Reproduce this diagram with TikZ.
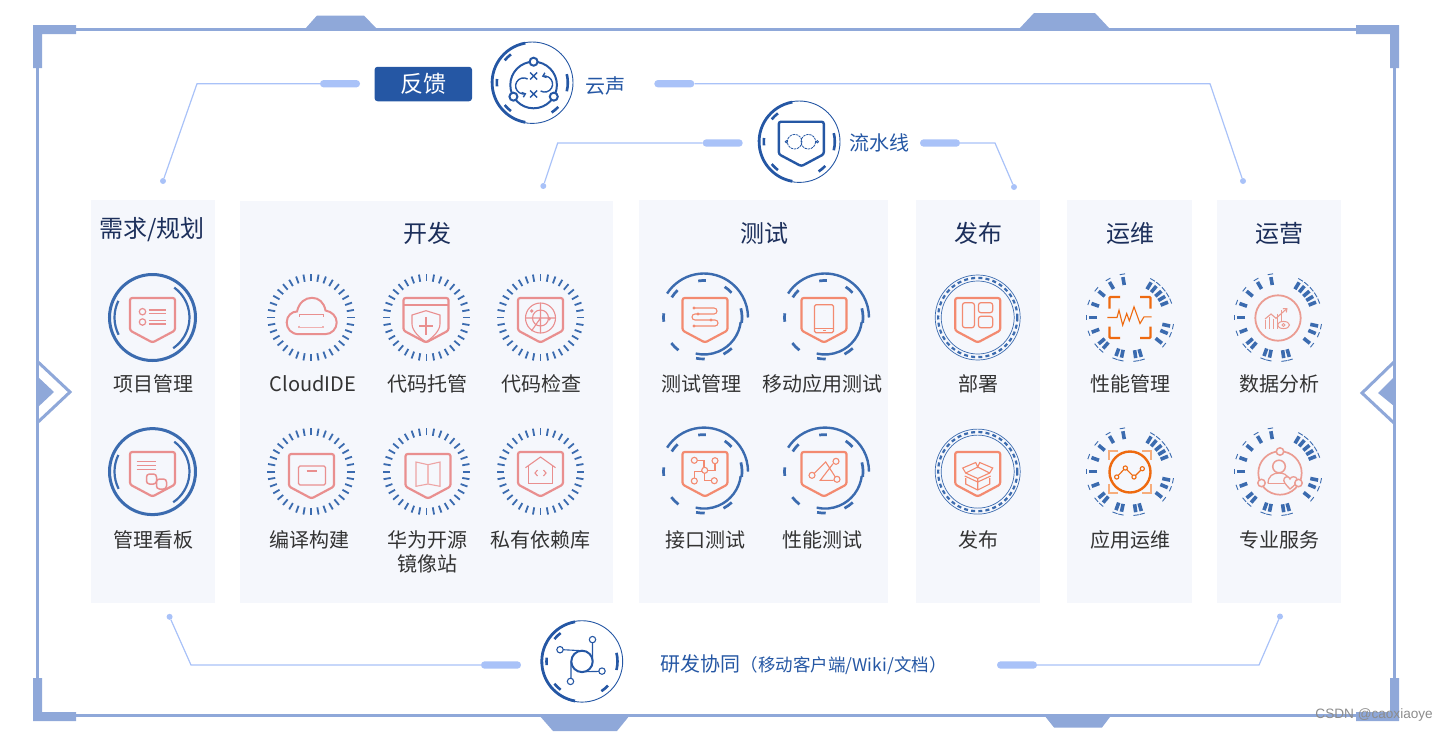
\documentclass[tikz,border=0pt]{standalone}
\usepackage{fontspec}
\setmainfont{Noto Sans CJK SC}
\newfontfamily\markfont{Liberation Sans}
\usepackage{xcolor}
\usepackage{tikz}
\usetikzlibrary{arrows.meta}
\definecolor{framecol}{HTML}{8FA8D9}
\definecolor{linkcol}{HTML}{A9C2F8}
\definecolor{panelcol}{HTML}{F5F7FC}
\definecolor{ringcol}{HTML}{3B6BAF}
\definecolor{deepblue}{HTML}{2557A4}
\definecolor{pinkcol}{HTML}{E98F8F}
\definecolor{salmoncol}{HTML}{F38A70}
\definecolor{orangecol}{HTML}{EE6A10}
\definecolor{rosecol}{HTML}{EB9C92}
\definecolor{titlecol}{HTML}{1C2F5B}
\colorlet{iconcol}{pinkcol}
\tikzset{
  ringdouble/.pic={\begin{scope}[y=1pt]
    \draw[ringcol, line width=3] (0,0) circle[radius=43];
    \draw[ringcol, line width=2.2] (54:37) arc[start angle=54, end angle=-56, radius=37];
    \draw[ringcol, line width=2.2] (154:38) arc[start angle=154, end angle=207, radius=38];
  \end{scope}},
  ringticks/.pic={\begin{scope}[y=1pt]
    \foreach \a in {0,10,...,350} \draw[ringcol, line width=1.8] (\a:36.3) -- (\a:43.6);
  \end{scope}},
  ringarcs/.pic={\begin{scope}[y=1pt]
    \draw[ringcol, line width=2.4] (147:44) arc[start angle=147, end angle=0, radius=44];
    \draw[ringcol, line width=2.4] (-7:37) arc[start angle=-7, end angle=-103, radius=37];
    \foreach \a/\r/\s in {93/37/6,49/37/7,3/38/11,141/38/7,180/40.5/6,-135/41.5/7,-95/41.5/6,-55/41.5/7}
      \draw[ringcol, line width=2.7] (\a-\s:\r) arc[start angle=\a-\s, end angle=\a+\s, radius=\r];
  \end{scope}},
  ringdash/.pic={
    \draw[ringcol, line width=.7] (0,0) circle[radius=42.5];
    \draw[ringcol, line width=.7] (0,0) circle[radius=36.5];
    \draw[ringcol, line width=2.2, dash pattern=on 4pt off 3.2pt] (0,0) circle[radius=39.6];
  },
  ringburst/.pic={\begin{scope}[y=1pt]
    \foreach \a in {100,120,140,160,180,201,220,229,250,258,278,286,59,50,40,31,22,-12,-23,-39} {
      \draw[ringcol, line width=3.6] (\a:33) -- (\a:41);
      \draw[ringcol, line width=.9] (\a-3.5:44) arc[start angle=\a-3.5, end angle=\a+3.5, radius=44];
    }
  \end{scope}},
  ringflow/.pic={\begin{scope}[y=1pt]
    \draw[deepblue, line width=.9] (0,0) circle[radius=40.7];
    \draw[deepblue, line width=2.8] (100:40.2) arc[start angle=100, end angle=260, radius=40.2];
    \foreach \a/\s in {134/7,180/6,226/7,310/7,0/14}
      \draw[deepblue, line width=2.6] (\a-\s:35.5) arc[start angle=\a-\s, end angle=\a+\s, radius=35.5];
  \end{scope}},
  shieldbase/.pic={
    \draw[iconcol, line width=2.2, rounded corners=2.2] (-22.5,-20) -- (22.5,-20) -- (22.5,12.5) -- (0,24.5) -- (-22.5,12.5) -- cycle;
  },
  iconlist/.pic={
    \pic {shieldbase};
    \draw[iconcol, line width=1.2] (-10,-6.3) circle[radius=3.2] (-10,4) circle[radius=3.2];
    \foreach \y in {-8,-4.7,2.7,6} \draw[iconcol, line width=1.1] (-4,\y) -- (13,\y);
  },
  iconboard/.pic={
    \pic {shieldbase};
    \foreach \y in {-10.6,-6.6,-2.3} \draw[iconcol, line width=1.1] (-16,\y) -- (3,\y);
    \draw[iconcol, line width=1.5, rounded corners=3] (-6,2) rectangle (4,12) (4,7) rectangle (14,17);
  },
  iconcloud/.pic={
    \draw[iconcol, line width=2] (-12,16.7) .. controls (-20,16.7) and (-24.3,11) .. (-24.3,5)
      .. controls (-24.3,-2) and (-19,-6) .. (-14,-6) .. controls (-12,-15) and (-6,-19.7) .. (1,-19.7)
      .. controls (8,-19.7) and (13,-15) .. (14.5,-7) .. controls (21,-6) and (25.7,-1) .. (25.7,5)
      .. controls (25.7,11) and (21,16.7) .. (14,16.7) -- cycle;
    \draw[iconcol, line width=1] (-12,-1) -- (-12,-3) -- (12,-3) -- (12,-1);
    \draw[iconcol!70, line width=1.4] (-12,8) -- (-12,10) -- (12,10) -- (12,8);
  },
  iconguard/.pic={
    \pic {shieldbase};
    \draw[iconcol, line width=1.2] (-22,-13) -- (22,-13);
    \draw[iconcol, line width=1.1] (0,-7.3) -- (14,-3) -- (14,6) .. controls (14,13) and (6,20) .. (0,24)
      .. controls (-6,20) and (-14,13) .. (-14,6) -- (-14,-3) -- cycle;
    \draw[iconcol, line width=1.1] (0,-1) -- (0,17) (-7,8) -- (7,8);
  },
  iconradar/.pic={
    \pic {shieldbase};
    \draw[iconcol, line width=1.1] (0,0) circle[radius=15] (0,0) circle[radius=8];
    \draw[iconcol, line width=1.1] (-15,0) -- (15,0) (0,-15) -- (0,15) (0,0) -- (-9,13);
    \fill[iconcol] (-8.7,-7) circle[radius=1.9] (8.7,.7) circle[radius=1.9];
  },
  iconbuild/.pic={
    \pic {shieldbase};
    \draw[iconcol, line width=1.1, rounded corners=1.5] (-13,-8) rectangle (14,11);
    \draw[iconcol, line width=1.1] (-5,-3) -- (5,-3);
  },
  iconbook/.pic={
    \pic {shieldbase};
    \draw[iconcol!80, line width=1.1] (0,-9.3) -- (-12,-12) -- (-12,12.3) -- (0,10) -- (12,12.3) -- (12,-12) -- cycle;
    \draw[iconcol!60, line width=1.8] (0,-9.3) -- (0,10);
  },
  iconhome/.pic={
    \pic {shieldbase};
    \draw[iconcol, line width=1.1] (-15,-4.3) -- (0,-15) -- (15,-4.3);
    \draw[iconcol, line width=1.1] (-12,-6.6) -- (-12,11.6) -- (12,11.6) -- (12,-6.6);
    \draw[iconcol, line width=1.1] (-3,-2) -- (-5.5,1) -- (-3,4) (3,-2) -- (5.5,1) -- (3,4);
  },
  iconsnake/.pic={
    \pic {shieldbase};
    \draw[iconcol, line width=1.1, rounded corners=3] (-11,-10) -- (12,-10) -- (12,-4) -- (-13,-4) -- (-13,2) -- (13,2) -- (13,8) -- (-11,8);
    \fill[iconcol] (-11,-10) circle[radius=1.7] (-7,-4) circle[radius=1.7] (6,2) circle[radius=1.7] (-11,8) circle[radius=1.7];
  },
  iconphone/.pic={
    \pic {shieldbase};
    \draw[iconcol, line width=1.2, rounded corners=1.5] (-9.5,-13.3) rectangle (9.5,14.7);
    \draw[iconcol, line width=.8] (-9.5,10.5) -- (9.5,10.5);
    \fill[iconcol] (-1.5,11.8) rectangle (1.5,13.2);
  },
  icongraph/.pic={
    \pic {shieldbase};
    \draw[iconcol, line width=1.1] (-7.7,-11.7) -- (-1,-11.7) -- (-1,-4.7) (10,-8.3) -- (10,-1.7) -- (2.7,-1.7)
      (-.3,1.3) -- (-.3,8.7) -- (6.3,8.7) (-10.7,6) -- (-10.7,-.5) -- (-3.3,-.5);
    \draw[iconcol, line width=1.1] (-10.7,-11.7) circle[radius=3] (10,-11.3) circle[radius=3]
      (-.3,-1.7) circle[radius=3] (-10.7,9) circle[radius=3] (9.3,8.7) circle[radius=3];
  },
  iconpeak/.pic={
    \pic {shieldbase};
    \draw[iconcol, line width=1.1] (-10,1.7) -- (1.7,-10) -- (11.3,5) (9,-8.3) -- (-3.7,8.3) -- (9.6,8.3);
    \draw[iconcol, line width=1.1] (-12,3.3) circle[radius=3] (12,-10.7) circle[radius=3] (13,7.3) circle[radius=3];
  },
  iconpanes/.pic={
    \pic {shieldbase};
    \draw[iconcol, line width=1.2, rounded corners=2.5] (-15.3,-15.3) rectangle (-3.3,9.7)
      (.7,-15.3) rectangle (15,-5.3) (.7,-1.7) rectangle (15,9.7);
  },
  iconcrate/.pic={
    \pic {shieldbase};
    \draw[iconcol, line width=1.1] (-15,-4) -- (-2,-9.5) -- (0,-5) -- (2,-9.5) -- (15,-4) -- (12,1) -- (0,-5) -- (-12,1) -- cycle;
    \draw[iconcol, line width=1.1] (-12,1) -- (0,6.5) -- (12,1) (-13,4) -- (0,10) -- (13,4)
      (-12,6) -- (-12,12) -- (0,18) -- (12,12) -- (12,6) (0,6.5) -- (0,18);
  },
  iconpulse/.pic={
    \foreach \sx/\sy in {1/1,-1/1,1/-1,-1/-1}
      \draw[iconcol, line width=2.2, rounded corners=1] (\sx*10,\sy*20.5) -- (\sx*20.5,\sy*20.5) -- (\sx*20.5,\sy*9);
    \draw[iconcol, line width=1.1] (-22.7,0) -- (-13,0) -- (-11,-7.3) -- (-7.3,7.7) -- (-3.3,-4) -- (-.7,3.3) -- (4,-10.7) -- (10,6) -- (14,-.7) -- (21.7,-.7);
  },
  icontrend/.pic={
    \foreach \sx/\sy in {1/1,-1/1,1/-1,-1/-1}
      \draw[iconcol!55, line width=1.5] (\sx*12,\sy*21) -- (\sx*21,\sy*21) -- (\sx*21,\sy*12);
    \draw[iconcol, line width=2.4] (0,0) circle[radius=20.5];
    \draw[iconcol, line width=1.1] (-13.3,5) -- (-4.7,-4) -- (4,5) -- (12.3,-3.3);
    \draw[iconcol, fill=panelcol, line width=1.1] (-13.3,5) circle[radius=2.1] (-4.7,-4) circle[radius=2.1]
      (4,5) circle[radius=2.1] (12.3,-3.3) circle[radius=2.1];
  },
  iconchart/.pic={
    \draw[iconcol, line width=1.8] (0,0) circle[radius=22.7];
    \foreach \x/\t in {-12.7/2,-8.3/-1.5,-4.3/.5,-.7/-4.5,3.5/-8} \draw[iconcol, line width=1.1] (\x,\t) -- (\x,11);
    \draw[iconcol, line width=1.1, -{Straight Barb[length=3pt,width=5pt]}] (-13,1) -- (-7,-4) -- (-2,.3) -- (9.5,-10);
    \draw[iconcol, line width=1, fill=panelcol] (5.5,7) ellipse[x radius=6, y radius=3.6];
    \draw[iconcol, line width=1] (5.5,7) circle[radius=1.5];
  },
  iconperson/.pic={
    \draw[iconcol, line width=1.7] (0,0) circle[radius=21.7];
    \draw[iconcol, line width=1.5] (-1,-6.5) circle[radius=6.3];
    \draw[iconcol, line width=1.3] (-12,10.5) .. controls (-12,3) and (-7,0) .. (-1,0) .. controls (4,0) and (7,2) .. (9,5);
    \draw[iconcol, line width=1.1] (-12,10.5) -- (9,10.5);
    \draw[iconcol, fill=panelcol, line width=1.3] (10,16) .. controls (5,11) and (3,8) .. (4,6)
      .. controls (5,3) and (9,3) .. (10,6) .. controls (11,3) and (16,3) .. (17,6) .. controls (18,9) and (15,12) .. (10,16) -- cycle;
    \draw[iconcol, fill=panelcol, line width=1.5] (0,-21.5) circle[radius=3.7] (-18.5,10) circle[radius=3.7] (18.5,10) circle[radius=3.7];
  },
  iconvoice/.pic={\begin{scope}[y=1pt, shift={(1.3,-2.3)}]
    \draw[deepblue, line width=2] (0,0) circle[radius=23.3];
    \foreach \p in {90,210,330} \draw[deepblue, fill=white, line width=2] (\p:23.3) circle[radius=4];
    \foreach \y in {9,-9} \draw[deepblue, line width=1.5] (-3.5,\y-3.5) -- (3.5,\y+3.5) (-3.5,\y+3.5) -- (3.5,\y-3.5);
    \draw[deepblue, line width=1.4, -{Straight Barb[length=3pt,width=5pt]}] (-6,6) arc[start angle=60, end angle=290, radius=8];
    \draw[deepblue, line width=1.4, -{Straight Barb[length=3pt,width=5pt]}] (7,-6) arc[start angle=-120, end angle=110, radius=8];
  \end{scope}},
  iconloop/.pic={
    \draw[deepblue, line width=2.4, rounded corners=2.2] (-20.5,-20) -- (24.5,-20) -- (24.5,12.5) -- (2,24.5) -- (-20.5,12.5) -- cycle;
    \draw[deepblue, line width=.8, dash pattern=on 2.4pt off .8pt] (-4.7,0) circle[radius=7.3] (9,0) circle[radius=7.3];
    \draw[deepblue, line width=.8] (-13,0) circle[radius=1.2] (18,0) circle[radius=1.2];
  },
  iconhub/.pic={
    \draw[deepblue, line width=1.1] (-19,-11.7) -- (0,-10.7) (10.5,-18.8) -- (10.5,0) (0,10.3) -- (17,10) (-11,17) -- (-11,0);
    \draw[deepblue, line width=2] (0,0) circle[radius=10.7];
    \draw[deepblue, fill=white, line width=1.1] (-22,-11.7) circle[radius=3.2] (10.5,-21.8) circle[radius=3.2]
      (20,9.7) circle[radius=3.2] (-11.5,20) circle[radius=3.2];
  },
}
\begin{document}
\begin{tikzpicture}[x=1pt, y=-1pt, every node/.style={inner sep=2pt},
  frameline/.style={framecol, line width=3},
  framepart/.style={fill=framecol},
  panel/.style={fill=panelcol, inner sep=0pt},
  title/.style={color=titlecol, font=\fontsize{24}{28}\selectfont},
  itemlabel/.style={color=black!80, align=center, font=\fontsize{20}{24}\selectfont},
  lanelabel/.style={color=deepblue, font=\fontsize{20}{24}\selectfont},
  pill/.style={fill=linkcol, rounded corners=3.6, minimum width=40, minimum height=7.4, inner sep=0pt},
  dotend/.style={circle, fill=linkcol, minimum size=6, inner sep=0pt},
  link/.style={linkcol, line width=1.2}]
\useasboundingbox (0,0) rectangle (1448,732);
\draw[frameline] (37,29) rectangle (1394,715);
\fill[framepart] (33,25) -- (76,25) -- (76,34) -- (42,34) -- (42,68) -- (33,68) -- cycle;
\fill[framepart] (1399,25) -- (1356,25) -- (1356,34) -- (1390,34) -- (1390,68) -- (1399,68) -- cycle;
\fill[framepart] (33,721) -- (76,721) -- (76,712) -- (42,712) -- (42,678) -- (33,678) -- cycle;
\fill[framepart] (1399,721) -- (1356,721) -- (1356,712) -- (1390,712) -- (1390,678) -- (1399,678) -- cycle;
\fill[framepart] (305,29) -- (317,15.5) -- (364,15.5) -- (377,29) -- cycle;
\fill[framepart] (1019,29) -- (1034,13) -- (1095,13) -- (1110,29) -- cycle;
\fill[framepart] (539,715) -- (553,731) -- (617,731) -- (630,715) -- cycle;
\fill[framepart] (1044,715) -- (1054,727.5) -- (1102,727.5) -- (1111.5,715) -- cycle;
\draw[framecol, line width=3] (37,361) -- (70,392) -- (37,423);
\fill[framepart] (37,376) -- (54,392) -- (37,408) -- cycle;
\draw[framecol, line width=3] (1394,362) -- (1362,393) -- (1394,423);
\fill[framepart] (1394,377) -- (1378,393) -- (1394,406) -- cycle;

\foreach \nm/\xa/\xb/\ya in {req/91/215/200, dev/240/613/201, test/639/888/200, rel/916/1040/200, ops/1067/1192/200, run/1217/1341/200} {
  \node[panel, minimum width=\xb-\xa, minimum height=603-\ya] (panel\nm) at ({(\xa+\xb)/2},{(603+\ya)/2}) {};
}
\node[title] (titlereq) at (152,230) {需求/规划};
\node[title] (titledev) at (427,233) {开发};
\node[title] (titletest) at (764,233) {测试};
\node[title] (titlerel) at (978,233) {发布};
\node[title] (titleops) at (1130,233) {运维};
\node[title] (titlerun) at (1279,233) {运营};

\foreach \nm/\rx/\ry/\rg/\ic/\ix/\iy/\cl/\lx/\ly/\lbl in {
    plan/152.5/317.5/ringdouble/iconlist/152.5/318/pinkcol/153/384/项目管理,
    board/152.5/471.6/ringdouble/iconboard/152.5/472/pinkcol/153/540/管理看板,
    ide/311/317.5/ringticks/iconcloud/311/317.5/pinkcol/313/384/CloudIDE,
    repo/426.5/317.5/ringticks/iconguard/426/318/pinkcol/427/384/代码托管,
    check/540.5/317.5/ringticks/iconradar/540.5/318/pinkcol/541/384/代码检查,
    build/311/471.6/ringticks/iconbuild/311.5/474/pinkcol/309/540/编译构建,
    mirror/426.5/471.6/ringticks/iconbook/428/474/pinkcol/427/552/华为开源\\镜像站,
    depot/540.5/471.6/ringticks/iconhome/540.5/472/pinkcol/540.5/540/私有依赖库,
    tman/704/317.5/ringarcs/iconsnake/705/318/salmoncol/701/384/测试管理,
    tmob/825/317.5/ringarcs/iconphone/824/318/salmoncol/822/384/移动应用测试,
    tapi/704/471.6/ringarcs/icongraph/705/472/salmoncol/705/540/接口测试,
    tperf/825/471.6/ringarcs/iconpeak/824/472/salmoncol/822/540/性能测试,
    deploy/977.7/317.5/ringdash/iconpanes/977.7/318/salmoncol/978/384/部署,
    ship/977.7/471.6/ringdash/iconcrate/977.7/472/salmoncol/978/540/发布,
    apm/1130/317.5/ringburst/iconpulse/1130/317.5/orangecol/1130/384/性能管理,
    aom/1130/471.6/ringburst/icontrend/1130/472/orangecol/1130/540/应用运维,
    data/1278/317.5/ringburst/iconchart/1278/318/rosecol/1279/384/数据分析,
    serv/1278/471.6/ringburst/iconperson/1280/473/rosecol/1279/540/专业服务} {
  \colorlet{iconcol}{\cl}
  \pic at (\rx,\ry) {\rg};
  \pic at (\ix,\iy) {\ic};
  \node[itemlabel] (label\nm) at (\lx,\ly) {\lbl};
}

\pic at (532.3,82.7) {ringflow};
\pic at (532.3,82.7) {iconvoice};
\pic at (799.3,141.7) {ringflow};
\pic at (799.3,141.7) {iconloop};
\pic at (582,661.4) {ringflow};
\pic at (582,661.4) {iconhub};

\node[fill=deepblue, rounded corners=3, minimum width=97.5, minimum height=34.5, inner sep=0pt,
  text=white, font=\fontsize{23}{27}\selectfont] (feedback) at (423.3,84) {反馈};
\node[lanelabel] (voice) at (605,86) {云声};
\node[lanelabel] (pipeline) at (879,143) {流水线};
\node[lanelabel, anchor=west, inner sep=0pt] (collab) at (660.5,665) {研发协同{\fontsize{17.5}{22}\selectfont（移动客户端/Wiki/文档）}};

\node[pill] (pillfb) at (340,83.7) {};
\node[pill] (pillvoice) at (674.3,83.7) {};
\node[pill] (pillpipea) at (722.7,143) {};
\node[pill] (pillpipeb) at (940,143) {};
\node[pill] (pillcola) at (501,665) {};
\node[pill] (pillcolb) at (1017,665) {};
\node[dotend] (dotfb) at (163,181) {};
\node[dotend] (dotvoice) at (1243,181) {};
\node[dotend] (dotpipea) at (543.3,186) {};
\node[dotend] (dotpipeb) at (1014,187) {};
\node[dotend] (dotcola) at (169.6,616.8) {};
\node[dotend] (dotcolb) at (1280,616.5) {};
\coordinate (bendfb) at (197,83.7);
\coordinate (bendvoice) at (1210,83.7);
\coordinate (bendpipea) at (557.7,143);
\coordinate (bendpipeb) at (995,143);
\coordinate (bendcola) at (191,665);
\coordinate (bendcolb) at (1259,665);
\draw[link] (pillfb.west) -- (bendfb) -- (dotfb);
\draw[link] (pillvoice.east) -- (bendvoice) -- (dotvoice);
\draw[link] (pillpipea.west) -- (bendpipea) -- (dotpipea);
\draw[link] (pillpipeb.east) -- (bendpipeb) -- (dotpipeb);
\draw[link] (pillcola.west) -- (bendcola) -- (dotcola);
\draw[link] (pillcolb.east) -- (bendcolb) -- (dotcolb);

\node[text=black!45, anchor=east, inner sep=0pt, font=\markfont\fontsize{13.6}{15}\selectfont] (credit) at (1433,715) {CSDN @caoxiaoye};
\end{tikzpicture}
\end{document}
